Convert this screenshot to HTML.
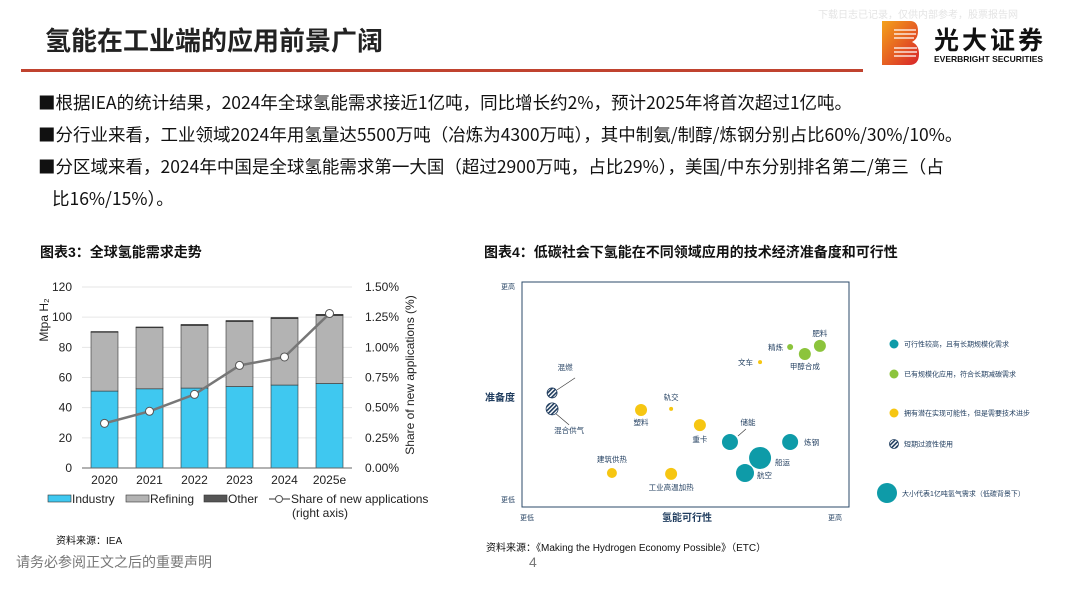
<!DOCTYPE html>
<html><head><meta charset="utf-8">
<style>
body{margin:0;width:1067px;height:600px;background:#fff;position:relative;overflow:hidden;font-family:"Liberation Sans","Noto Sans CJK SC",sans-serif;color:#111}
.abs{position:absolute;white-space:nowrap}
.b{font-size:17.5px;left:38px;line-height:22px;font-family:"Noto Sans CJK SC",sans-serif;color:#111}
</style></head><body>
<div class="abs" style="left:818px;top:6px;font-size:10px;color:#e4e4e4">下载日志已记录，仅供内部参考，股票报告网</div>
<div class="abs" style="left:45px;top:23px;font-size:26px;font-weight:bold;color:#222;font-family:'Noto Sans CJK SC',sans-serif;line-height:34px">氢能在工业端的应用前景广阔</div>
<div class="abs" style="left:21px;top:69px;width:842px;height:3px;background:#c0432f"></div>
<svg class="abs" style="left:882px;top:21px" width="38" height="44" viewBox="0 0 38 44">
<defs><linearGradient id="lg" x1="0" y1="0" x2="1" y2="1"><stop offset="0" stop-color="#f4a21a"/><stop offset="1" stop-color="#d8232a"/></linearGradient></defs>
<path d="M0 0H28Q36 0 36 10Q36 18 30 21Q37 24 37 33Q37 44 27 44H0Z" fill="url(#lg)"/>
<g stroke="#fff" stroke-width="1.3"><line x1="12" y1="9" x2="34" y2="9"/><line x1="12" y1="13" x2="34" y2="13"/><line x1="12" y1="17" x2="32" y2="17"/><line x1="12" y1="27" x2="35" y2="27"/><line x1="12" y1="31" x2="35" y2="31"/><line x1="12" y1="35" x2="34" y2="35"/></g></svg>
<div class="abs" style="left:934px;top:22px;font-size:25px;font-weight:bold;color:#111;letter-spacing:3px;font-family:'Noto Sans CJK SC',sans-serif;line-height:34px">光大证券</div>
<div class="abs" style="left:934px;top:54px;font-size:8.5px;font-weight:bold;color:#111">EVERBRIGHT SECURITIES</div>

<div class="abs b" style="top:92px">■根据IEA的统计结果，2024年全球氢能需求接近1亿吨，同比增长约2%，预计2025年将首次超过1亿吨。</div>
<div class="abs b" style="top:124px">■分行业来看，工业领域2024年用氢量达5500万吨（冶炼为4300万吨），其中制氨/制醇/炼钢分别占比60%/30%/10%。</div>
<div class="abs b" style="top:156px">■分区域来看，2024年中国是全球氢能需求第一大国（超过2900万吨，占比29%），美国/中东分别排名第二/第三（占</div>
<div class="abs b" style="top:188px;left:52px">比16%/15%）。</div>

<div class="abs" style="left:40px;top:242px;font-size:14px;font-weight:bold">图表3：全球氢能需求走势</div>
<div class="abs" style="left:484px;top:242px;font-size:14px;font-weight:bold">图表4：低碳社会下氢能在不同领域应用的技术经济准备度和可行性</div>

<svg class="abs" id="c1" style="left:0;top:270px" width="480" height="260"></svg>
<svg class="abs" id="c2" style="left:470px;top:270px" width="597" height="260"></svg>

<div class="abs" style="left:56px;top:532px;font-size:10px">资料来源：IEA</div>
<div class="abs" style="left:486px;top:539px;font-size:10px">资料来源：《Making the Hydrogen Economy Possible》（ETC）</div>
<div class="abs" style="left:16px;top:552px;font-size:14px;color:#777">请务必参阅正文之后的重要声明</div>
<div class="abs" style="left:529px;top:554px;font-size:14px;color:#777">4</div>

<script>
const years=["2020","2021","2022","2023","2024","2025e"];
const industry=[51,52.5,53,54,55,56];
const refining=[39,40.5,41.5,43,44,45];
const other=[0.5,0.5,0.7,0.8,0.8,0.9];
const share=[0.37,0.47,0.61,0.85,0.92,1.28];
const leftTicks=[0,20,40,60,80,100,120];
const rightTicks=["0.00%","0.25%","0.50%","0.75%","1.00%","1.25%","1.50%"];

const NS="http://www.w3.org/2000/svg";
function mk(p,t,a,txt){const e=document.createElementNS(NS,t);for(const k in a)e.setAttribute(k,a[k]);if(txt!==undefined)e.textContent=txt;p.appendChild(e);return e;}
const c1=document.getElementById('c1');
const X0=82,X1=352,Y0=198,Y1=17;
const bw=(X1-X0)/years.length;
const xc=i=>X0+bw*(i+0.5);
const yL=v=>Y0-(v/120)*(Y0-Y1);
const yR=v=>Y0-(v/1.5)*(Y0-Y1);
leftTicks.forEach((t,i)=>{
  const y=yL(t);
  if(t>0){const g=mk(c1,'line',{x1:X0,x2:X1,y1:y,y2:y,stroke:'#e6e6e6','stroke-width':1});
  
  }
  const l=mk(c1,'text',{x:72,y:y+4,'text-anchor':'end','font-size':12,fill:'#222'},t);
  
  
  const r=mk(c1,'text',{x:365,y:y+4,'font-size':12,fill:'#222'},rightTicks[i]);
  
  
});
years.forEach((yr,i)=>{
  const x=xc(i)-13.5;
  let b=mk(c1,'rect',{x:x,y:yL(industry[i]),width:27,height:Y0-yL(industry[i]),fill:'#3fc8f0',stroke:'#333','stroke-width':0.6});
  
  
  const t1=industry[i]+refining[i];
  b=mk(c1,'rect',{x:x,y:yL(t1),width:27,height:yL(industry[i])-yL(t1),fill:'#b3b3b3',stroke:'#333','stroke-width':0.6});
  
  
  const t2=t1+other[i];
  b=mk(c1,'rect',{x:x,y:yL(t2),width:27,height:yL(t1)-yL(t2),fill:'#555',stroke:'#333','stroke-width':0.6});
  
  
  const l=mk(c1,'text',{x:xc(i),y:Y0+16,'text-anchor':'middle','font-size':12,fill:'#222'},yr);
  
  
});
const ax=mk(c1,'line',{x1:X0,x2:X1,y1:Y0,y2:Y0,stroke:'#666','stroke-width':1});


const pl=mk(c1,'polyline',{points:share.map((v,i)=>xc(i)+','+yR(v)).join(' '),fill:'none',stroke:'#777','stroke-width':2.5});


share.forEach((v,i)=>{const c=mk(c1,'circle',{cx:xc(i),cy:yR(v),r:4,fill:'#fff',stroke:'#555','stroke-width':1});

});
let yt=mk(c1,'text',{transform:'translate(48,50) rotate(-90)','font-size':12,fill:'#222','text-anchor':'middle'},'Mtpa H₂');


yt=mk(c1,'text',{transform:'translate(414,105) rotate(-90)','font-size':12,fill:'#222','text-anchor':'middle'},'Share of new applications (%)');


const lg=[[48,'#3fc8f0','Industry'],[126,'#b3b3b3','Refining'],[204,'#555','Other']];
lg.forEach(d=>{const r=mk(c1,'rect',{x:d[0],y:225,width:23,height:7,fill:d[1],stroke:'#333','stroke-width':0.6});


const t=mk(c1,'text',{x:d[0]+24,y:233,'font-size':12,fill:'#222'},d[2]);

});
mk(c1,'line',{x1:269,x2:290,y1:229,y2:229,stroke:'#777','stroke-width':1.5});
mk(c1,'circle',{cx:279,cy:229,r:3.5,fill:'#fff',stroke:'#555'});
let t=mk(c1,'text',{x:291,y:233,'font-size':12,fill:'#222'},'Share of new applications');


t=mk(c1,'text',{x:292,y:247,'font-size':12,fill:'#222'},'(right axis)');



const bNames=["混燃","混合供气","塑料","轨交","重卡","建筑供热","工业高温加热","储能","炼钢","船运","航空","文车","精炼","甲醇合成","肥料"];
const bFeas=[9.2,9.2,36.4,45.6,54.4,27.5,45.6,63.6,82,72.8,68.2,72.8,82,86.5,91.1];
const bReady=[50.7,43.6,43.1,43.6,36.4,15.1,14.7,28.9,28.9,21.8,15.1,64.4,71.1,68,71.6];
const bSize=[5,6,6,2,6,5,6,8,8,11,9,2,3,6,6];
const bType=["h","h","y","y","y","y","y","t","t","t","t","y","g","g","g"];
const c2=document.getElementById('c2');
const defs=mk(c2,'defs',{});
const pat=mk(defs,'pattern',{id:'hatch',width:3,height:3,patternUnits:'userSpaceOnUse',patternTransform:'rotate(45)'});
mk(pat,'rect',{width:3,height:3,fill:'#fff'});
mk(pat,'rect',{width:1.6,height:3,fill:'#1f3c5e'});
const col={t:'#0e9ba8',g:'#8cc43c',y:'#f6c612',h:'url(#hatch)'};
const FX0=52,FX1=379,FY0=237,FY1=12;
const fx=v=>FX0+v/100*(FX1-FX0), fy=v=>FY0-v/100*(FY0-FY1);
const fr=mk(c2,'rect',{x:FX0,y:FY1,width:FX1-FX0,height:FY0-FY1,fill:'none',stroke:'#2b4a6a','stroke-width':1});


const lblOff={"混燃":[13,-23,'middle'],"混合供气":[17,24,'middle'],"塑料":[0,15,'middle'],"轨交":[0,-9,'middle'],"重卡":[0,17,'middle'],"建筑供热":[0,-11,'middle'],"工业高温加热":[0,16,'middle'],"储能":[18,-17,'middle'],"炼钢":[14,3,'start'],"船运":[15,7,'start'],"航空":[12,5,'start'],"文车":[-7,3,'end'],"精炼":[-7,3,'end'],"甲醇合成":[0,15,'middle'],"肥料":[0,-10,'middle']};
mk(c2,'line',{x1:fx(9.2)+5,y1:fy(50.7)-3,x2:fx(9.2)+23,y2:fy(50.7)-15,stroke:'#333','stroke-width':0.6});
mk(c2,'line',{x1:fx(9.2)+4,y1:fy(43.6)+5,x2:fx(9.2)+17,y2:fy(43.6)+16,stroke:'#333','stroke-width':0.6});
mk(c2,'line',{x1:fx(63.6)+8,y1:fy(28.9)-6,x2:fx(63.6)+16,y2:fy(28.9)-13,stroke:'#333','stroke-width':0.6});
bNames.forEach((n,i)=>{
  const cx=fx(bFeas[i]),cy=fy(bReady[i]);
  const c=mk(c2,'circle',{cx:cx,cy:cy,r:bSize[i],fill:col[bType[i]],stroke:bType[i]=='h'?'#1f3c5e':'none','stroke-width':0.8});
  
  
  const o=lblOff[n];
  const l=mk(c2,'text',{x:cx+o[0],y:cy+o[1],'text-anchor':o[2],'font-size':7.5,fill:'#1f3c5e'},n);
  
  
});
const ax2=[[38,19,'更高','middle',7],[38,232,'更低','middle',7],[57,250,'更低','middle',7],[365,250,'更高','middle',7]];
ax2.forEach(a=>{const t=mk(c2,'text',{x:a[0],y:a[1],'text-anchor':a[3],'font-size':a[4],fill:'#1f3c5e'},a[2]);

});
t=mk(c2,'text',{x:30,y:131,'text-anchor':'middle','font-size':10,'font-weight':'bold',fill:'#1f3c5e'},'准备度');


t=mk(c2,'text',{x:217,y:251,'text-anchor':'middle','font-size':10,'font-weight':'bold',fill:'#1f3c5e'},'氢能可行性');


const legY=[74,104,143,174];
const legT=["可行性较高，且有长期规模化需求","已有规模化应用，符合长期减碳需求","拥有潜在实现可能性，但是需要技术进步","短期过渡性使用"];
const legC=['t','g','y','h'];
legY.forEach((y,i)=>{const c=mk(c2,'circle',{cx:424,cy:y,r:4.5,fill:col[legC[i]],stroke:legC[i]=='h'?'#1f3c5e':'none','stroke-width':0.8});


const t=mk(c2,'text',{x:434,y:y+2.5,'font-size':7,fill:'#1f3c5e'},legT[i]);

});
const bc=mk(c2,'circle',{cx:417,cy:223,r:10,fill:col.t});


t=mk(c2,'text',{x:432,y:226,'font-size':7,fill:'#1f3c5e'},'大小代表1亿吨氢气需求（低碳背景下）');


</script>
</body></html>
